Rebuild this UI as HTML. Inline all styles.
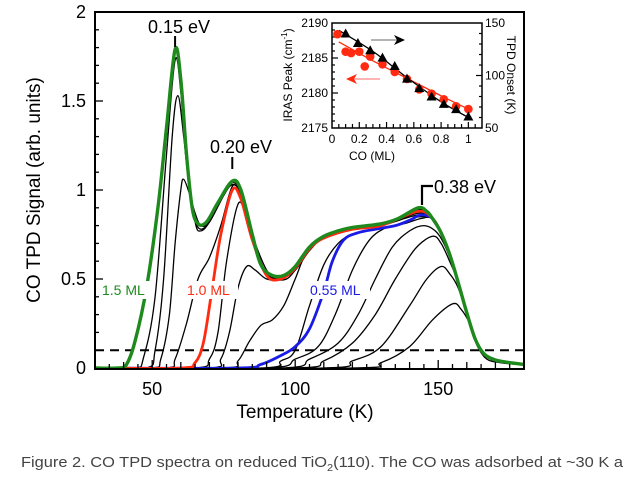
<!DOCTYPE html>
<html><head><meta charset="utf-8"><style>
html,body{margin:0;padding:0;background:#fff;}
svg{display:block;font-family:"Liberation Sans",Arial,sans-serif;}
</style></head><body>
<svg id="chart" width="627" height="477" viewBox="0 0 627 477">
<g id="main"></g>
<g id="inset"></g>
<text x="21" y="467" font-size="15" fill="#444" textLength="602" lengthAdjust="spacingAndGlyphs">Figure 2. CO TPD spectra on reduced TiO<tspan font-size="10" dy="4">2</tspan><tspan dy="-4">(110). The CO was adsorbed at ~30 K a</tspan></text>
</svg>
<script>
// ===== main chart data =====
const xTicks = [50, 100, 150];
const yTicks = [0, 0.5, 1, 1.5, 2];
const yTickLabels = ["0", "0.5", "1", "1.5", "2"];
const tailT = [148,151,154,157,160,163,166,170,175,180];
const tailV = [0.84,0.76,0.64,0.48,0.31,0.16,0.08,0.045,0.03,0.02];
const c1T = [30,120,130,140,148,155,158,161,164,167,172,180];
const c1V = [0,0,0.03,0.12,0.27,0.36,0.33,0.25,0.12,0.05,0.03,0.02];
const c2T = [30,110,120,130,140,146,151,154,157,160,163,166,172,180];
const c2V = [0,0,0.04,0.12,0.35,0.5,0.57,0.53,0.45,0.3,0.15,0.07,0.03,0.02];
const c3T = [30,100,110,120,128,135,142,148,151,154,157,160,163,166,172,180];
const c3V = [0,0,0.04,0.14,0.3,0.5,0.67,0.74,0.7,0.6,0.48,0.31,0.15,0.08,0.035,0.02];
const c4T = [30,95,105,115,122,128,134,140,145,149,152,155,158,161,164,167,172,180];
const c4V = [0,0,0.05,0.14,0.3,0.5,0.68,0.77,0.8,0.77,0.7,0.58,0.43,0.26,0.13,0.07,0.035,0.02];
const c5T = [30,90,100,108,114,120,126,132,138,144];
const c5V = [0,0,0.05,0.12,0.3,0.55,0.72,0.79,0.81,0.84];
const c6T = [30,88,95,100,105,110,115,120,128,135,141,144];
const c6V = [0,0,0.04,0.1,0.35,0.58,0.7,0.75,0.78,0.8,0.84,0.85];
const blueT = [30,80,88,95,100,105,110,113,117,122,128,135,140,144];
const blueV = [0,0,0.02,0.07,0.12,0.22,0.43,0.6,0.72,0.76,0.78,0.8,0.83,0.86];
const c8T = [30,75,80,84,88,92,96,100,104,110,118,130,143];
const c8V = [0,0,0.04,0.15,0.24,0.27,0.35,0.5,0.65,0.73,0.77,0.8,0.86];
const c9T = [30,70,74,77,80,83,86,90,95,100,105,110,120,130,143];
const c9V = [0,0,0.05,0.2,0.45,0.57,0.55,0.5,0.5,0.55,0.66,0.73,0.78,0.8,0.87];
const c10T = [30,65,70,73,76,80,83,86,90,93,97,100,105,110,120,130,143];
const c10V = [0,0,0.05,0.2,0.6,0.92,0.85,0.7,0.55,0.5,0.5,0.55,0.66,0.73,0.78,0.8,0.87];
const redT = [30,60,65,68,71,74,78,81,85,90,95,100,105,110,120,130,143];
const redV = [0,0,0.03,0.15,0.45,0.75,1.0,0.95,0.72,0.52,0.5,0.56,0.67,0.73,0.78,0.8,0.88];
const c11T = [30,55,58,62,66,70,74,78,81,85,90,95,100,105,110,120,130,143];
const c11V = [0,0,0.05,0.25,0.5,0.62,0.8,1.02,0.97,0.73,0.53,0.51,0.56,0.67,0.73,0.78,0.8,0.88];
const c12T = [30,50,53,56,58,60,61,63,65,67,70,75,78,81,85,90,95,100,105,110,120,130,143];
const c12V = [0,0,0.05,0.3,0.7,1.0,1.06,0.98,0.87,0.8,0.82,0.97,1.03,0.98,0.74,0.53,0.51,0.56,0.67,0.73,0.78,0.8,0.88];
const c13T = [30,48,51,54,57,59,61,63,65,67,70,75,78,81,85,90,95,100,105,110,120,130,143];
const c13V = [0,0,0.1,0.5,1.3,1.53,1.3,1.0,0.83,0.78,0.82,0.97,1.03,0.98,0.74,0.53,0.51,0.56,0.67,0.73,0.78,0.8,0.88];
const c14T = [30,44,47,51,55,58,60,62,65,67,70,75,78,81,85,90,95,100,105,110,120,130,143];
const c14V = [0,0,0.06,0.4,1.2,1.73,1.55,1.15,0.82,0.77,0.82,0.97,1.04,0.99,0.74,0.53,0.51,0.56,0.67,0.73,0.78,0.8,0.89];
const greenT = [30,38,41,44,48,52,55,58,60,62,64,66,69,73,78,81,85,88,92,96,100,105,110,115,120,130,136,143,146];
const greenV = [0,0,0.02,0.15,0.45,0.9,1.35,1.79,1.62,1.2,0.9,0.81,0.82,0.93,1.05,1.0,0.75,0.58,0.52,0.52,0.57,0.68,0.74,0.77,0.79,0.81,0.84,0.9,0.88];
// ===== inset data =====
const insetXTicks = [0, 0.2, 0.4, 0.6, 0.8, 1];
const insetLeftTicks = [2175, 2180, 2185, 2190];
const insetRightTicks = [50, 100, 150];
const irasCov = [0.04,0.1,0.14,0.2,0.24,0.28,0.37,0.46,0.55,0.64,0.73,0.82,0.91,1.0];
const irasPeak = [2188.4,2185.9,2185.7,2185.9,2183.8,2185.2,2184.1,2183,2182,2180.5,2179.9,2179.1,2178.1,2177.7];
const onsetCov = [0.1,0.19,0.28,0.37,0.46,0.55,0.64,0.73,0.82,0.91,1.0];
const onsetT = [140,131,124,117,109,97,88,80,73,68,61];
const irasFitCov = [0.05,0.3,0.55,0.8,1.0];
const irasFitVal = [2187.3,2184.6,2182.1,2179.6,2177.7];
const onsetFitCov = [0.05,0.3,0.55,0.8,1.0];
const onsetFitVal = [143,123,98,75,60];

const NS = "http://www.w3.org/2000/svg";
function mk(parent, tag, attrs) {
  const e = document.createElementNS(NS, tag);
  for (const k in attrs) e.setAttribute(k, attrs[k]);
  parent.appendChild(e);
  return e;
}
const X0 = 95, X1 = 524, Y0 = 368, Y1 = 12;
const xs = t => X0 + (t - 30) / 150 * (X1 - X0);
const ys = v => Y0 - v / 2 * (Y0 - Y1);
function smoothPath(pts) {
  let d = "M" + pts[0][0].toFixed(1) + "," + pts[0][1].toFixed(1);
  for (let i = 0; i < pts.length - 1; i++) {
    const p0 = pts[Math.max(0, i - 1)], p1 = pts[i], p2 = pts[i + 1], p3 = pts[Math.min(pts.length - 1, i + 2)];
    const c1x = p1[0] + (p2[0] - p0[0]) / 6, c1y = p1[1] + (p2[1] - p0[1]) / 6;
    const c2x = p2[0] - (p3[0] - p1[0]) / 6, c2y = p2[1] - (p3[1] - p1[1]) / 6;
    d += "C" + c1x.toFixed(1) + "," + c1y.toFixed(1) + " " + c2x.toFixed(1) + "," + c2y.toFixed(1) + " " + p2[0].toFixed(1) + "," + p2[1].toFixed(1);
  }
  return d;
}
const main = document.getElementById("main");
function series(T, V, withTail, color, w, name) {
  let pts = T.map((t, i) => [xs(t), ys(V[i])]);
  if (withTail) tailT.forEach((t, i) => { if (t > T[T.length - 1]) pts.push([xs(t), ys(tailV[i])]); });
  const p = mk(main, "path", {d: smoothPath(pts), fill: "none", stroke: color, "stroke-width": w, "stroke-linejoin": "round"});
  
  
}
const dl = mk(main, "line", {x1: X0, x2: X1, y1: ys(0.1), y2: ys(0.1), stroke: "#000", "stroke-width": 2, "stroke-dasharray": "9,6"});


series(c1T, c1V, false, "#000", 1.3, "trace-c1");
series(c2T, c2V, false, "#000", 1.3, "trace-c2");
series(c3T, c3V, false, "#000", 1.3, "trace-c3");
series(c4T, c4V, false, "#000", 1.3, "trace-c4");
series(c5T, c5V, true, "#000", 1.3, "trace-c5");
series(c6T, c6V, true, "#000", 1.3, "trace-c6");
series(c8T, c8V, true, "#000", 1.3, "trace-c8");
series(c9T, c9V, true, "#000", 1.3, "trace-c9");
series(c10T, c10V, true, "#000", 1.3, "trace-c10");
series(c11T, c11V, true, "#000", 1.3, "trace-c11");
series(c12T, c12V, true, "#000", 1.3, "trace-c12");
series(c13T, c13V, true, "#000", 1.3, "trace-c13");
series(c14T, c14V, true, "#000", 1.3, "trace-c14");
series(blueT, blueV, true, "#1a1ae6", 2.8, "trace-0.55ml");
series(redT, redV, true, "#ff2a10", 2.8, "trace-1.0ml");
series(greenT, greenV, true, "#1e8a1e", 3.4, "trace-1.5ml");
const fr = mk(main, "rect", {x: X0, y: Y1, width: X1 - X0, height: Y0 - Y1 + 1, fill: "none", stroke: "#000", "stroke-width": 2});


for (let t = 35; t < 180; t += 5) {
  const len = t % 50 === 0 ? 8 : (t % 10 === 0 ? 6 : 4);
  mk(main, "line", {x1: xs(t), x2: xs(t), y1: Y0, y2: Y0 - len, stroke: "#000", "stroke-width": 1.3});
}
for (let v = 0.1; v < 2; v += 0.1) {
  const major = Math.abs(v * 2 - Math.round(v * 2)) < 1e-6;
  mk(main, "line", {x1: X0, x2: X0 + (major ? 8 : 4), y1: ys(v), y2: ys(v), stroke: "#000", "stroke-width": 1.3});
}
xTicks.forEach(t => {
  const e = mk(main, "text", {x: xs(t), y: 395, "font-size": 18, "text-anchor": "middle"});
  e.textContent = t;
  
  
});
yTicks.forEach((v, i) => {
  const e = mk(main, "text", {x: 86, y: ys(v) + 6, "font-size": 18, "text-anchor": "end"});
  e.textContent = yTickLabels[i];
  
  
});
function txt(par, x, y, s, size, fill, anchor, name, extra) {
  const e = mk(par, "text", Object.assign({x: x, y: y, "font-size": size, fill: fill, "text-anchor": anchor}, extra || {}));
  e.textContent = s;
  
  
  return e;
}
txt(main, 305, 418, "Temperature (K)", 19, "#000", "middle", "x-axis-title");
txt(main, 0, 0, "CO TPD Signal (arb. units)", 19, "#000", "middle", "y-axis-title", {transform: "translate(40,190) rotate(-90)"});
txt(main, 179, 33, "0.15 eV", 18, "#000", "middle", "peak-label-015");
mk(main, "line", {x1: xs(58), x2: xs(58), y1: 36, y2: 47, stroke: "#000", "stroke-width": 2});
txt(main, 241, 153, "0.20 eV", 18, "#000", "middle", "peak-label-020");
mk(main, "line", {x1: xs(78), x2: xs(78), y1: 157, y2: 169, stroke: "#000", "stroke-width": 2});
txt(main, 434, 193, "0.38 eV", 18, "#000", "start", "peak-label-038");
mk(main, "polyline", {points: "422,205 422,186 433,186", fill: "none", stroke: "#000", "stroke-width": 2.2});
mk(main, "rect", {x: 101, y: 281, width: 51, height: 18, fill: "#fff"});
mk(main, "rect", {x: 186, y: 281, width: 52, height: 18, fill: "#fff"});
mk(main, "rect", {x: 309, y: 281, width: 61, height: 18, fill: "#fff"});
txt(main, 102, 295, "1.5 ML", 14, "#1e8a1e", "start", "label-1.5ml");
txt(main, 187, 295, "1.0 ML", 14, "#ff2a10", "start", "label-1.0ml");
txt(main, 310, 295, "0.55 ML", 14, "#1a1ae6", "start", "label-0.55ml");

// ===== inset =====
const inset = document.getElementById("inset");
const IX0 = 332, IX1 = 482, IY0 = 128, IY1 = 23;
const ix = c => IX0 + c / 1.1 * (IX1 - IX0);
const iyL = v => IY0 - (v - 2175) / 15 * (IY0 - IY1);
const iyR = v => IY0 - (v - 50) / 100 * (IY0 - IY1);
mk(inset, "rect", {x: IX0, y: IY1, width: IX1 - IX0, height: IY0 - IY1, fill: "#fff", stroke: "#000", "stroke-width": 1.5});
for (let c = 0.05; c < 1.1; c += 0.05) {
  const major = Math.abs(c * 5 - Math.round(c * 5)) < 1e-6;
  mk(inset, "line", {x1: ix(c), x2: ix(c), y1: IY0, y2: IY0 - (major ? 6 : 4), stroke: "#000", "stroke-width": 1.2});
}
for (let v = 2176; v < 2190; v += 1) mk(inset, "line", {x1: IX0, x2: IX0 + (v % 5 === 0 ? 6 : 3), y1: iyL(v), y2: iyL(v), stroke: "#000", "stroke-width": 1.2});
for (let v = 60; v < 150; v += 10) mk(inset, "line", {x1: IX1, x2: IX1 - (v % 50 === 0 ? 6 : 3), y1: iyR(v), y2: iyR(v), stroke: "#000", "stroke-width": 1.2});
insetXTicks.forEach(c => txt(inset, ix(c), 143, String(c), 12, "#000", "middle", "inset-x-tick-label"));
insetLeftTicks.forEach(v => txt(inset, IX0 - 4, iyL(v) + 4, String(v), 12, "#000", "end", "inset-left-tick-label"));
insetRightTicks.forEach(v => txt(inset, IX1 + 3, iyR(v) + 4, String(v), 12, "#000", "start", "inset-right-tick-label"));
txt(inset, 372, 160, "CO (ML)", 12, "#000", "middle", "inset-x-title");
const lt = txt(inset, 0, 0, "IRAS Peak (cm", 12, "#000", "middle", "inset-left-title", {transform: "translate(292,75) rotate(-90)"});
const sup = mk(lt, "tspan", {"font-size": 8, dy: -5}); sup.textContent = "-1";
const sup2 = mk(lt, "tspan", {dy: 5}); sup2.textContent = ")";
txt(inset, 0, 0, "TPD Onset (K)", 12, "#000", "middle", "inset-right-title", {transform: "translate(507,75) rotate(90)"});
const fitR = mk(inset, "path", {d: smoothPath(irasFitCov.map((c, i) => [ix(c), iyL(irasFitVal[i])])), fill: "none", stroke: "#ff2a10", "stroke-width": 1.3});


const fitB = mk(inset, "path", {d: smoothPath(onsetFitCov.map((c, i) => [ix(c), iyR(onsetFitVal[i])])), fill: "none", stroke: "#000", "stroke-width": 1.3});


irasCov.forEach((c, i) => {
  const e = mk(inset, "circle", {cx: ix(c), cy: iyL(irasPeak[i]), r: 4.3, fill: "#ff2a10"});
  
  
});
onsetCov.forEach((c, i) => {
  const x = ix(c), y = iyR(onsetT[i]);
  const e = mk(inset, "polygon", {points: `${x},${y-5} ${x-5},${y+4} ${x+5},${y+4}`, fill: "#000"});
  
  
});
mk(inset, "line", {x1: 371, x2: 401, y1: 40, y2: 40, stroke: "#888", "stroke-width": 1.3});
mk(inset, "polygon", {points: "405,40 394,35 397,40 394,45", fill: "#000"});
mk(inset, "line", {x1: 352, x2: 380, y1: 79, y2: 79, stroke: "#f88", "stroke-width": 1.3});
mk(inset, "polygon", {points: "346,79 357,74 354,79 357,84", fill: "#ff2a10"});
</script>
</body></html>
